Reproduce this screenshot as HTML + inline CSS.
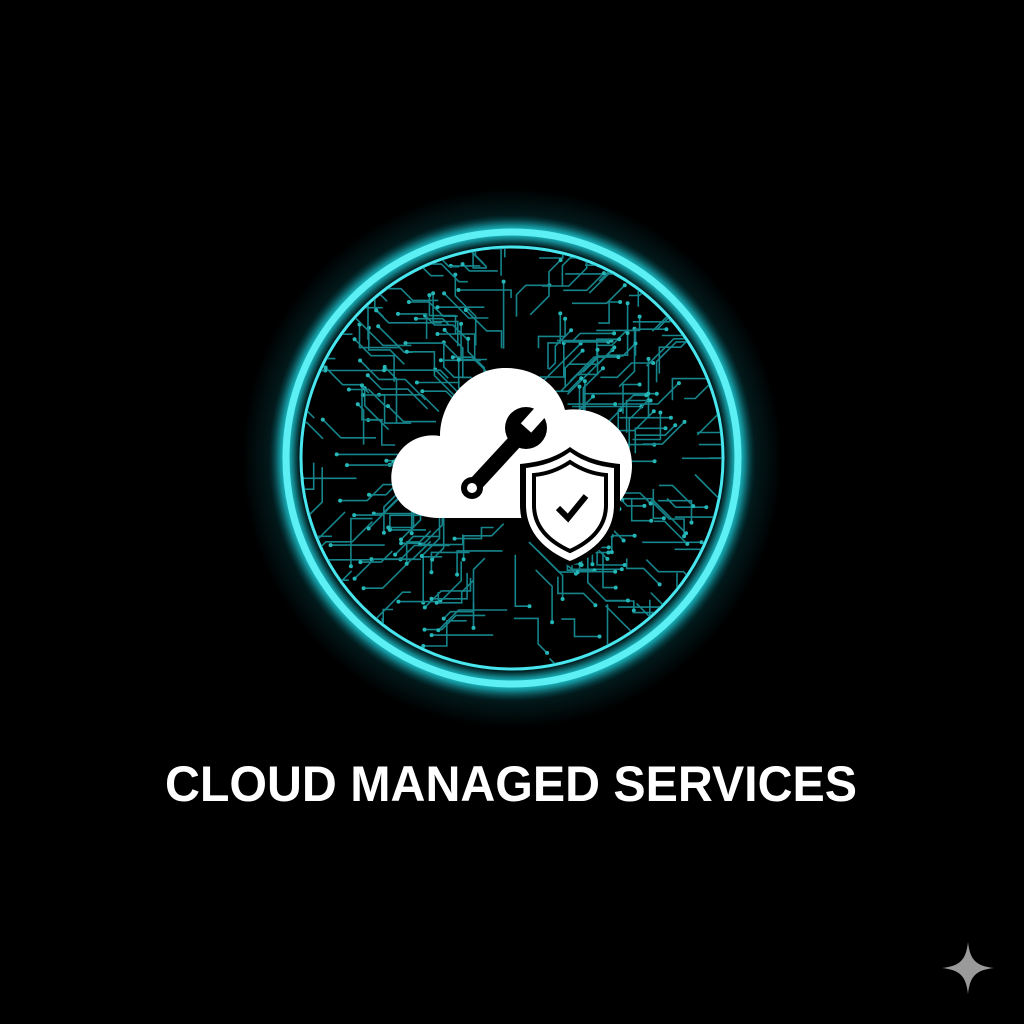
<!DOCTYPE html>
<html><head><meta charset="utf-8"><style>
html,body{margin:0;padding:0;background:#000;width:1024px;height:1024px;overflow:hidden}
</style></head><body>
<svg id="s" width="1024" height="1024" viewBox="0 0 1024 1024" xmlns="http://www.w3.org/2000/svg">
<defs>
<radialGradient id="glow" cx="512" cy="458" r="270" gradientUnits="userSpaceOnUse">
<stop offset="0.78" stop-color="#18d0e0" stop-opacity="0"/>
<stop offset="0.84" stop-color="#18d0e0" stop-opacity="0.5"/>
<stop offset="0.90" stop-color="#18d0e0" stop-opacity="0.12"/>
<stop offset="1" stop-color="#18d0e0" stop-opacity="0"/>
</radialGradient>
<clipPath id="cc"><circle cx="512" cy="458" r="210"/></clipPath>
<filter id="bl"><feGaussianBlur stdDeviation="5"/></filter>
</defs>
<rect width="1024" height="1024" fill="#000"/>
<circle cx="512" cy="458" r="270" fill="url(#glow)"/>
<circle cx="512" cy="458" r="226" fill="none" stroke="#22e0ea" stroke-width="12" filter="url(#bl)" opacity="0.9"/>
<circle cx="512" cy="458" r="226" fill="none" stroke="#5cf0f4" stroke-width="7"/>
<circle cx="512" cy="458" r="211" fill="none" stroke="#48e6ee" stroke-width="3"/>
<g id="circ" clip-path="url(#cc)" stroke="#1a9ca4" stroke-width="1.6" fill="none" opacity="0.85"></g>
<!-- cloud -->
<path d="M440 518 C400 518 388 490 392 470 C396 446 418 432 440 436 C440 400 470 368 505 368 C540 368 560 390 565 410 C600 405 632 430 632 465 C632 495 612 518 585 518 Z" fill="#fff"/>
<!-- wrench -->
<line x1="472" y1="488" x2="520" y2="436" stroke="#000" stroke-width="15"/>
<circle cx="472" cy="488" r="11" fill="#000"/>
<circle cx="472" cy="488" r="5" fill="#fff"/>
<circle cx="526" cy="428" r="21" fill="#000"/>
<rect x="519" y="400" width="14" height="28" fill="#fff" transform="rotate(42 526 428)"/>
<!-- shield -->
<path d="M570 447 C585 458 600 462 620 464 L620 505 C620 535 600 555 570 566 C540 555 520 535 520 505 L520 464 C540 462 555 458 570 447 Z" fill="#000"/>
<path d="M570 452 C584 462 598 466 614 468 L614 505 C614 532 596 550 570 561 C544 550 526 532 526 505 L526 468 C542 466 556 462 570 452 Z" fill="#fff"/>
<path d="M570 462 C582 470 594 474 606 475 L606 505 C606 526 592 541 570 551 C548 541 534 526 534 505 L534 475 C546 474 558 470 570 462 Z" fill="none" stroke="#000" stroke-width="4"/>
<path d="M558 508 L568 518 L586 496" fill="none" stroke="#000" stroke-width="6"/>
<text x="511" y="801" text-anchor="middle" font-family="Liberation Sans, sans-serif" font-weight="bold" font-size="50" fill="#fff" textLength="692" lengthAdjust="spacingAndGlyphs">CLOUD MANAGED SERVICES</text>
<path d="M968 942 C970 960 976 966 994 968 C976 970 970 976 968 994 C966 976 960 970 942 968 C960 966 966 960 968 942 Z" fill="#9a9a9a"/>
</svg>
<script>
(function(){
var g=document.getElementById('circ'),seed=7;
function r(){seed=(seed*16807)%2147483647;return seed/2147483647;}
var h='';
for(var i=0;i<260;i++){
 var a=r()*Math.PI*2,d=60+r()*150,x=512+Math.cos(a)*d,y=458+Math.sin(a)*d;
 var pts=[[x,y]];
 for(var k=0;k<3;k++){
  var dir=Math.floor(r()*4),L=8+r()*22;
  var ang=Math.atan2(y-458,x-512);
  var dx=Math.cos(ang),dy=Math.sin(ang);
  if(dir<2){x+=Math.sign(dx)*L;} else if(dir<3){y+=Math.sign(dy)*L;} else {x+=Math.sign(dx)*L*0.7;y+=Math.sign(dy)*L*0.7;}
  pts.push([x,y]);
 }
 h+='<polyline points="'+pts.map(function(p){return p[0].toFixed(1)+','+p[1].toFixed(1)}).join(' ')+'"/>';
 h+='<circle cx="'+x.toFixed(1)+'" cy="'+y.toFixed(1)+'" r="2" fill="#2cd8d8" stroke="none"/>';
}
g.innerHTML=h;
})();
</script>
</body></html>
